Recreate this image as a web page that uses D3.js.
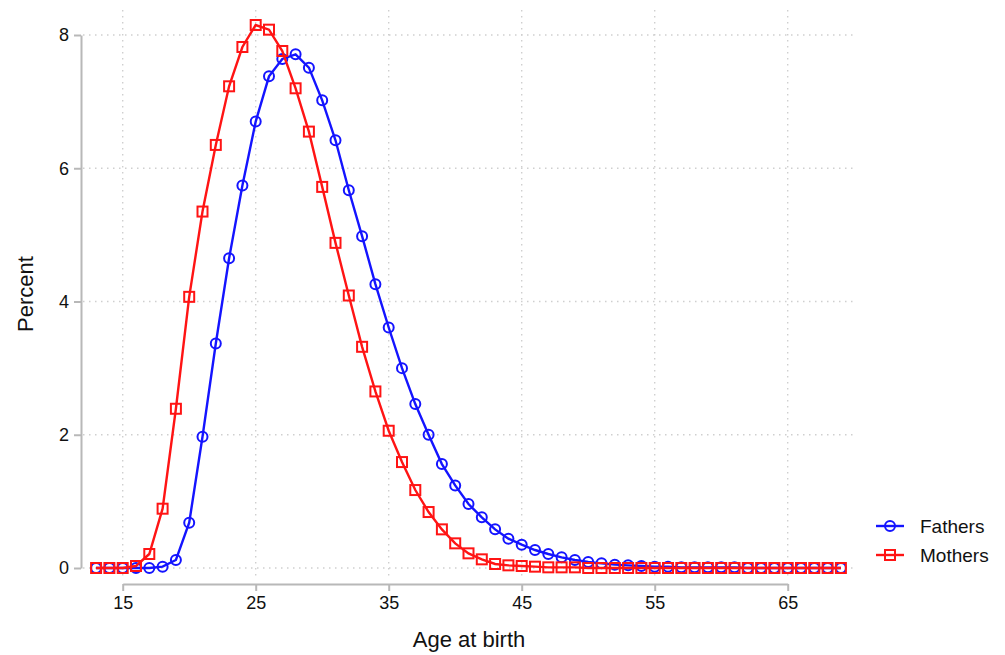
<!DOCTYPE html>
<html>
<head>
<meta charset="utf-8">
<script src="https://cdn.jsdelivr.net/npm/d3@7"></script>
<style>
  html, body { margin: 0; padding: 0; background: #fff; }
  svg { display: block; font-family: "Liberation Sans", Arial, sans-serif; }
</style>
</head>
<body>
<svg id="chart" width="1005" height="655"></svg>
<script>
const ages = d3.range(13, 70);
const fathers = [0, 0, 0, 0, 0, 0.02, 0.12, 0.68, 1.97, 3.37, 4.65, 5.74, 6.70, 7.38, 7.64, 7.71, 7.51, 7.02, 6.42, 5.67, 4.98, 4.26, 3.61, 3.00, 2.46, 2.00, 1.56, 1.24, 0.96, 0.76, 0.58, 0.44, 0.35, 0.27, 0.21, 0.16, 0.12, 0.09, 0.07, 0.05, 0.04, 0.03, 0.02, 0.02, 0.01, 0.01, 0.01, 0.01, 0.01, 0, 0, 0, 0, 0, 0, 0, 0];
const mothers = [0, 0, 0, 0.03, 0.21, 0.89, 2.39, 4.07, 5.35, 6.35, 7.23, 7.82, 8.15, 8.08, 7.76, 7.20, 6.55, 5.72, 4.88, 4.09, 3.32, 2.65, 2.06, 1.59, 1.17, 0.84, 0.58, 0.37, 0.22, 0.13, 0.06, 0.04, 0.03, 0.02, 0.01, 0.01, 0.01, 0, 0, 0, 0, 0, 0, 0, 0, 0, 0, 0, 0, 0, 0, 0, 0, 0, 0, 0, 0];
const xTicks = [15, 25, 35, 45, 55, 65];
const yTicks = [0, 2, 4, 6, 8];
const seriesNames = ["Fathers", "Mothers"];
const seriesColors = ["#1414ff", "#ff1414"];

const svg = d3.select("#chart");
const x = d3.scaleLinear().domain([15, 65]).range([122.7, 787.7]);
const y = d3.scaleLinear().domain([0, 8]).range([568, 35]);

const plotTop = 10, plotBottom = 580, plotLeft = 83, plotRight = 855;

// gridlines
const grid = svg.append("g").attr("stroke", "#cfcfcf").attr("stroke-width", 1.4)
  .attr("stroke-dasharray", "1.5,4.5").attr("fill", "none");
grid.selectAll("line.h").data(yTicks).join("line").attr("class", "h")
  .attr("x1", plotLeft).attr("x2", plotRight)
  .attr("y1", d => y(d)).attr("y2", d => y(d));
grid.selectAll("line.v").data(xTicks).join("line").attr("class", "v")
  .attr("x1", d => x(d)).attr("x2", d => x(d))
  .attr("y1", plotTop).attr("y2", plotBottom);

// axes
const xAxis = svg.append("g").attr("transform", "translate(0,584)")
  .call(d3.axisBottom(x).tickValues(xTicks).tickSize(7).tickPadding(5).tickSizeOuter(0));
const yAxis = svg.append("g").attr("transform", "translate(81,0)")
  .call(d3.axisLeft(y).tickValues(yTicks).tickSize(7).tickPadding(5).tickSizeOuter(0));
[xAxis, yAxis].forEach(a => {
  a.select(".domain").attr("stroke", "#b8b8b8").attr("stroke-width", 2);
  a.selectAll(".tick line").attr("stroke", "#b8b8b8").attr("stroke-width", 2);
  a.selectAll(".tick text").attr("fill", "#111").attr("font-size", 18)
    .attr("font-family", "'Liberation Sans', Arial, sans-serif");
});

// axis titles
svg.append("text").attr("x", 469).attr("y", 647).attr("text-anchor", "middle")
  .attr("font-size", 22).attr("fill", "#111").text("Age at birth");
svg.append("text").attr("transform", "translate(33,294) rotate(-90)")
  .attr("text-anchor", "middle").attr("font-size", 22).attr("fill", "#111").text("Percent");

const line = d3.line().x((d, i) => x(ages[i])).y(d => y(d));
const data = [fathers, mothers];

data.forEach((vals, si) => {
  const g = svg.append("g");
  g.append("path").datum(vals).attr("d", line).attr("fill", "none")
    .attr("stroke", seriesColors[si]).attr("stroke-width", 2.4);
  if (si === 0) {
    g.selectAll("circle").data(vals).join("circle")
      .attr("cx", (d, i) => x(ages[i])).attr("cy", d => y(d)).attr("r", 5)
      .attr("fill", "none").attr("stroke", seriesColors[si]).attr("stroke-width", 2);
  } else {
    g.selectAll("rect").data(vals).join("rect")
      .attr("x", (d, i) => x(ages[i]) - 5).attr("y", d => y(d) - 5)
      .attr("width", 10).attr("height", 10)
      .attr("fill", "none").attr("stroke", seriesColors[si]).attr("stroke-width", 2);
  }
});

// legend
const legend = svg.append("g");
seriesNames.forEach((name, i) => {
  const ly = 526 + i * 29;
  const g = legend.append("g");
  g.append("line").attr("x1", 876).attr("x2", 904).attr("y1", ly).attr("y2", ly)
    .attr("stroke", seriesColors[i]).attr("stroke-width", 2.4);
  if (i === 0) {
    g.append("circle").attr("cx", 890).attr("cy", ly).attr("r", 5)
      .attr("fill", "none").attr("stroke", seriesColors[i]).attr("stroke-width", 2);
  } else {
    g.append("rect").attr("x", 885).attr("y", ly - 5).attr("width", 10).attr("height", 10)
      .attr("fill", "none").attr("stroke", seriesColors[i]).attr("stroke-width", 2);
  }
  g.append("text").attr("x", 920).attr("y", ly + 7).attr("font-size", 19)
    .attr("fill", "#111").text(name);
});
</script>
</body>
</html>
